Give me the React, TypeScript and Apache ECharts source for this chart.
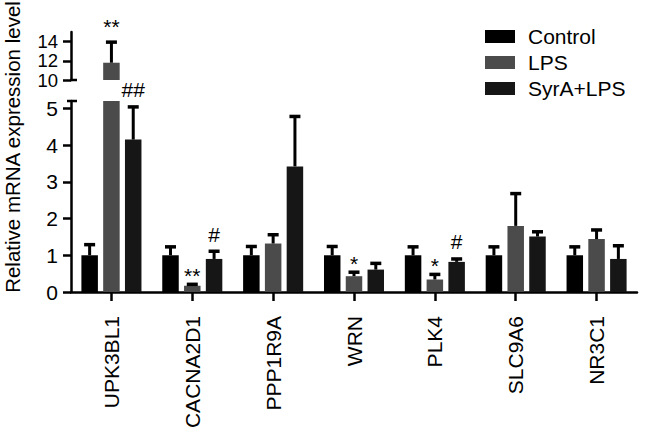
import React, { useEffect, useRef } from "react";
import * as echarts from "echarts";

const categories = ["UPK3BL1", "CACNA2D1", "PPP1R9A", "WRN", "PLK4", "SLC9A6", "NR3C1"];
const seriesNames = ["Control", "LPS", "SyrA+LPS"];
const controlMean = [1.0, 1.0, 1.0, 1.0, 1.0, 1.0, 1.0];
const controlErr = [0.33, 0.27, 0.28, 0.28, 0.27, 0.27, 0.27];
const lpsMean = [11.8, 0.17, 1.32, 0.43, 0.34, 1.8, 1.44];
const lpsErr = [2.3, 0.08, 0.28, 0.15, 0.18, 0.92, 0.29];
const syrMean = [4.15, 0.9, 3.42, 0.61, 0.82, 1.51, 0.9];
const syrErr = [0.93, 0.25, 1.4, 0.21, 0.12, 0.17, 0.4];
const controlSig = ["", "", "", "", "", "", ""];
const lpsSig = ["**", "**", "", "*", "*", "", ""];
const syrSig = ["##", "#", "", "", "#", "", ""];
const upperTicks = [10, 12, 14];
const lowerTicks = [0, 1, 2, 3, 4, 5];

const colors = ["#000000", "#4b4b4b", "#161616"];
const FONT = "'Liberation Sans', Arial, Helvetica, sans-serif";
const FS = 21;
const BAR_W = 16.5;
const BAR_STEP = 21.8;
const UPPER_MIN = 10;
const UPPER_MAX = 15;
const LOWER_MAX = 5.2;
const GRID_LEFT = 71;

export default function App() {
  const ref = useRef<HTMLDivElement>(null);
  useEffect(() => {
    document.body.style.margin = "0";
    if (!ref.current) return;
    const chart = echarts.init(ref.current, null, { renderer: "svg" });
    const means = [controlMean, lpsMean, syrMean];
    const errs = [controlErr, lpsErr, syrErr];
    const sigs = [controlSig, lpsSig, syrSig];

    const makeErr = (s: number, upper: boolean) => ({
      type: "custom",
      xAxisIndex: upper ? 0 : 1,
      yAxisIndex: upper ? 0 : 1,
      silent: true,
      z: 5,
      data: categories.map((_, i) => [i, means[s][i], errs[s][i]]),
      encode: { x: 0, y: 1 },
      renderItem: (params: any, api: any) => {
        const idx = api.value(0);
        const m = api.value(1);
        const e = api.value(2);
        if (upper && m < UPPER_MIN) return null;
        if (!upper && m + e > LOWER_MAX) return null;
        const base = api.coord([idx, m]);
        const top = api.coord([idx, m + e]);
        const x = base[0] + (s - 1) * BAR_STEP;
        const children: any[] = [
          {
            type: "line",
            shape: { x1: x, y1: base[1], x2: x, y2: top[1] + 1 },
            style: { stroke: "#000", lineWidth: 3 },
          },
          {
            type: "line",
            shape: { x1: x - 5.5, y1: top[1] + 1.5, x2: x + 5.5, y2: top[1] + 1.5 },
            style: { stroke: "#000", lineWidth: 3.5 },
          },
        ];
        const sig = sigs[s][idx];
        if (sig) {
          const isStar = sig.indexOf("*") >= 0;
          children.push({
            type: "text",
            x: x,
            y: top[1] + (isStar ? (upper ? -4 : 3) : -5),
            style: {
              text: sig,
              fill: "#000",
              fontSize: FS,
              fontFamily: FONT,
              align: "center",
              verticalAlign: "bottom",
            },
          });
        }
        return { type: "group", children };
      },
    });

    const makeBar = (s: number, upper: boolean) => ({
      type: "bar",
      name: seriesNames[s],
      xAxisIndex: upper ? 0 : 1,
      yAxisIndex: upper ? 0 : 1,
      barWidth: BAR_W,
      barGap: "32%",
      itemStyle: { color: colors[s] },
      data: upper ? means[s].map((v) => (v > UPPER_MIN ? v : "-")) : means[s],
      clip: true,
    });

    const axisLine = { show: true, lineStyle: { color: "#000", width: 2.5 } };
    const axisTickY = { show: true, length: 8, lineStyle: { color: "#000", width: 2.5 } };
    const yLabel = {
      fontSize: FS,
      color: "#000",
      margin: 13,
      fontFamily: FONT,
      showMinLabel: true,
      showMaxLabel: true,
    };

    const baseGraphics: any[] = [
      {
        type: "text",
        x: 12,
        y: 147,
        rotation: Math.PI / 2,
        style: {
          text: "Relative mRNA expression level",
          fontSize: 20.5,
          fontFamily: FONT,
          fill: "#000",
          align: "center",
          verticalAlign: "middle",
        },
      },
      { type: "line", shape: { x1: 70, y1: 80, x2: 77, y2: 80 }, style: { stroke: "#000", lineWidth: 2.5 } },
      { type: "line", shape: { x1: 67, y1: 101, x2: 77, y2: 101 }, style: { stroke: "#000", lineWidth: 2.5 } },
    ];

    chart.setOption({
      animation: false,
      textStyle: { fontFamily: FONT },
      legend: {
        orient: "vertical",
        left: 480,
        top: 21,
        itemWidth: 30,
        itemHeight: 13,
        itemGap: 5,
        icon: "rect",
        data: seriesNames,
        textStyle: { fontSize: FS, color: "#000", fontFamily: FONT, lineHeight: 21, padding: [0, 0, 0, 8] },
      },
      grid: [
        { left: GRID_LEFT, right: 9, top: 32, height: 48 },
        { left: GRID_LEFT, right: 9, top: 101, height: 191 },
      ],
      xAxis: [
        { type: "category", gridIndex: 0, data: categories, show: false },
        {
          type: "category",
          gridIndex: 1,
          data: categories,
          axisLine,
          axisTick: { show: true, alignWithLabel: true, length: 9, lineStyle: { color: "#000", width: 2.5 } },
          axisLabel: { rotate: 90, fontSize: FS, color: "#000", margin: 24, fontFamily: FONT, interval: 0 },
        },
      ],
      yAxis: [
        {
          type: "value",
          gridIndex: 0,
          min: UPPER_MIN,
          max: UPPER_MAX,
          interval: 2,
          splitLine: { show: false },
          axisLine,
          axisTick: { ...axisTickY, customValues: upperTicks },
          axisLabel: { show: false },
        },
        {
          type: "value",
          gridIndex: 1,
          min: 0,
          max: LOWER_MAX,
          interval: 1,
          splitLine: { show: false },
          axisLine,
          axisTick: { ...axisTickY, customValues: lowerTicks },
          axisLabel: { ...yLabel, customValues: lowerTicks },
        },
      ],
      graphic: baseGraphics,
      series: [
        makeBar(0, true),
        makeBar(1, true),
        makeBar(2, true),
        makeBar(0, false),
        makeBar(1, false),
        makeBar(2, false),
        makeErr(0, true),
        makeErr(1, true),
        makeErr(2, true),
        makeErr(0, false),
        makeErr(1, false),
        makeErr(2, false),
      ],
    });

    const upperLabels = upperTicks.map((v) => {
      const py = chart.convertToPixel({ yAxisIndex: 0 } as any, v) as unknown as number;
      return {
        type: "text",
        x: GRID_LEFT - 13,
        y: py,
        style: {
          text: String(v),
          fontSize: 18.5,
          lineHeight: 17,
          fontFamily: FONT,
          fill: "#000",
          align: "right",
          verticalAlign: "middle",
        },
      };
    });
    chart.setOption({ graphic: [...baseGraphics, ...upperLabels] });

    return () => chart.dispose();
  }, []);
  return <div ref={ref} style={{ width: 646, height: 432 }} />;
}
